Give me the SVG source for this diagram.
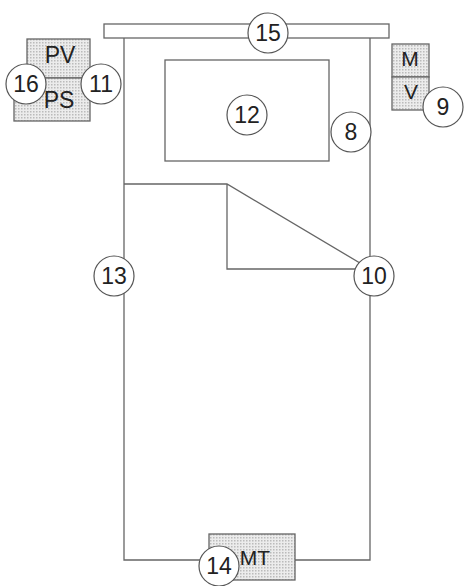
<svg xmlns="http://www.w3.org/2000/svg" width="464" height="586" viewBox="0 0 464 586">
<defs><pattern id="dots" width="3" height="3" patternUnits="userSpaceOnUse"><rect width="3" height="3" fill="#ececec"/><rect width="1.5" height="1.5" fill="#bbb"/></pattern></defs>
<style>
.l{fill:none;stroke:#666;stroke-width:1.3}
.b{fill:url(#dots);stroke:#666;stroke-width:1.3}
.c{fill:#fff;stroke:#555;stroke-width:1.2}
text{font-family:"Liberation Sans",Arial,sans-serif;font-size:23px;fill:#222;text-anchor:middle}
.s{font-size:21px}
</style>
<rect width="464" height="586" fill="#fff"/>
<g id="connectors">
<rect class="l" x="104" y="24" width="285" height="14"/>
<path class="l" d="M124 38V560H209M295 560H370V38"/>
<rect class="l" x="165" y="60" width="164" height="101"/>
<path class="l" d="M124 184H227L370 269M227 184V269H370"/>
</g>
<g id="pv"><rect class="b" x="27" y="39" width="63" height="39"/><text x="60" y="63">PV</text></g>
<g id="ps"><rect class="b" x="14" y="78" width="76" height="43"/><text x="59" y="108">PS</text></g>
<g id="m"><rect class="b" x="392" y="44" width="37" height="33"/><text x="410" y="66" class="s">M</text></g>
<g id="v"><rect class="b" x="392" y="77" width="37" height="33"/><text x="411" y="99" class="s">V</text></g>
<g id="mt"><rect class="b" x="209" y="534" width="86" height="46"/><text x="255" y="565" class="s">MT</text></g>
<g id="n15"><circle class="c" cx="268" cy="33" r="20"/><text x="268" y="41">15</text></g>
<g id="n16"><circle class="c" cx="26" cy="84" r="20"/><text x="26" y="92">16</text></g>
<g id="n11"><circle class="c" cx="101" cy="84" r="20"/><text x="101" y="92">11</text></g>
<g id="n12"><circle class="c" cx="247" cy="115" r="20"/><text x="247" y="123">12</text></g>
<g id="n8"><circle class="c" cx="351" cy="132" r="20"/><text x="351" y="140">8</text></g>
<g id="n9"><circle class="c" cx="443" cy="107" r="20"/><text x="443" y="115">9</text></g>
<g id="n13"><circle class="c" cx="114" cy="276" r="20"/><text x="114" y="284">13</text></g>
<g id="n10"><circle class="c" cx="374" cy="276" r="20"/><text x="374" y="284">10</text></g>
<g id="n14"><circle class="c" cx="219" cy="566" r="20"/><text x="219" y="574">14</text></g>
</svg>
